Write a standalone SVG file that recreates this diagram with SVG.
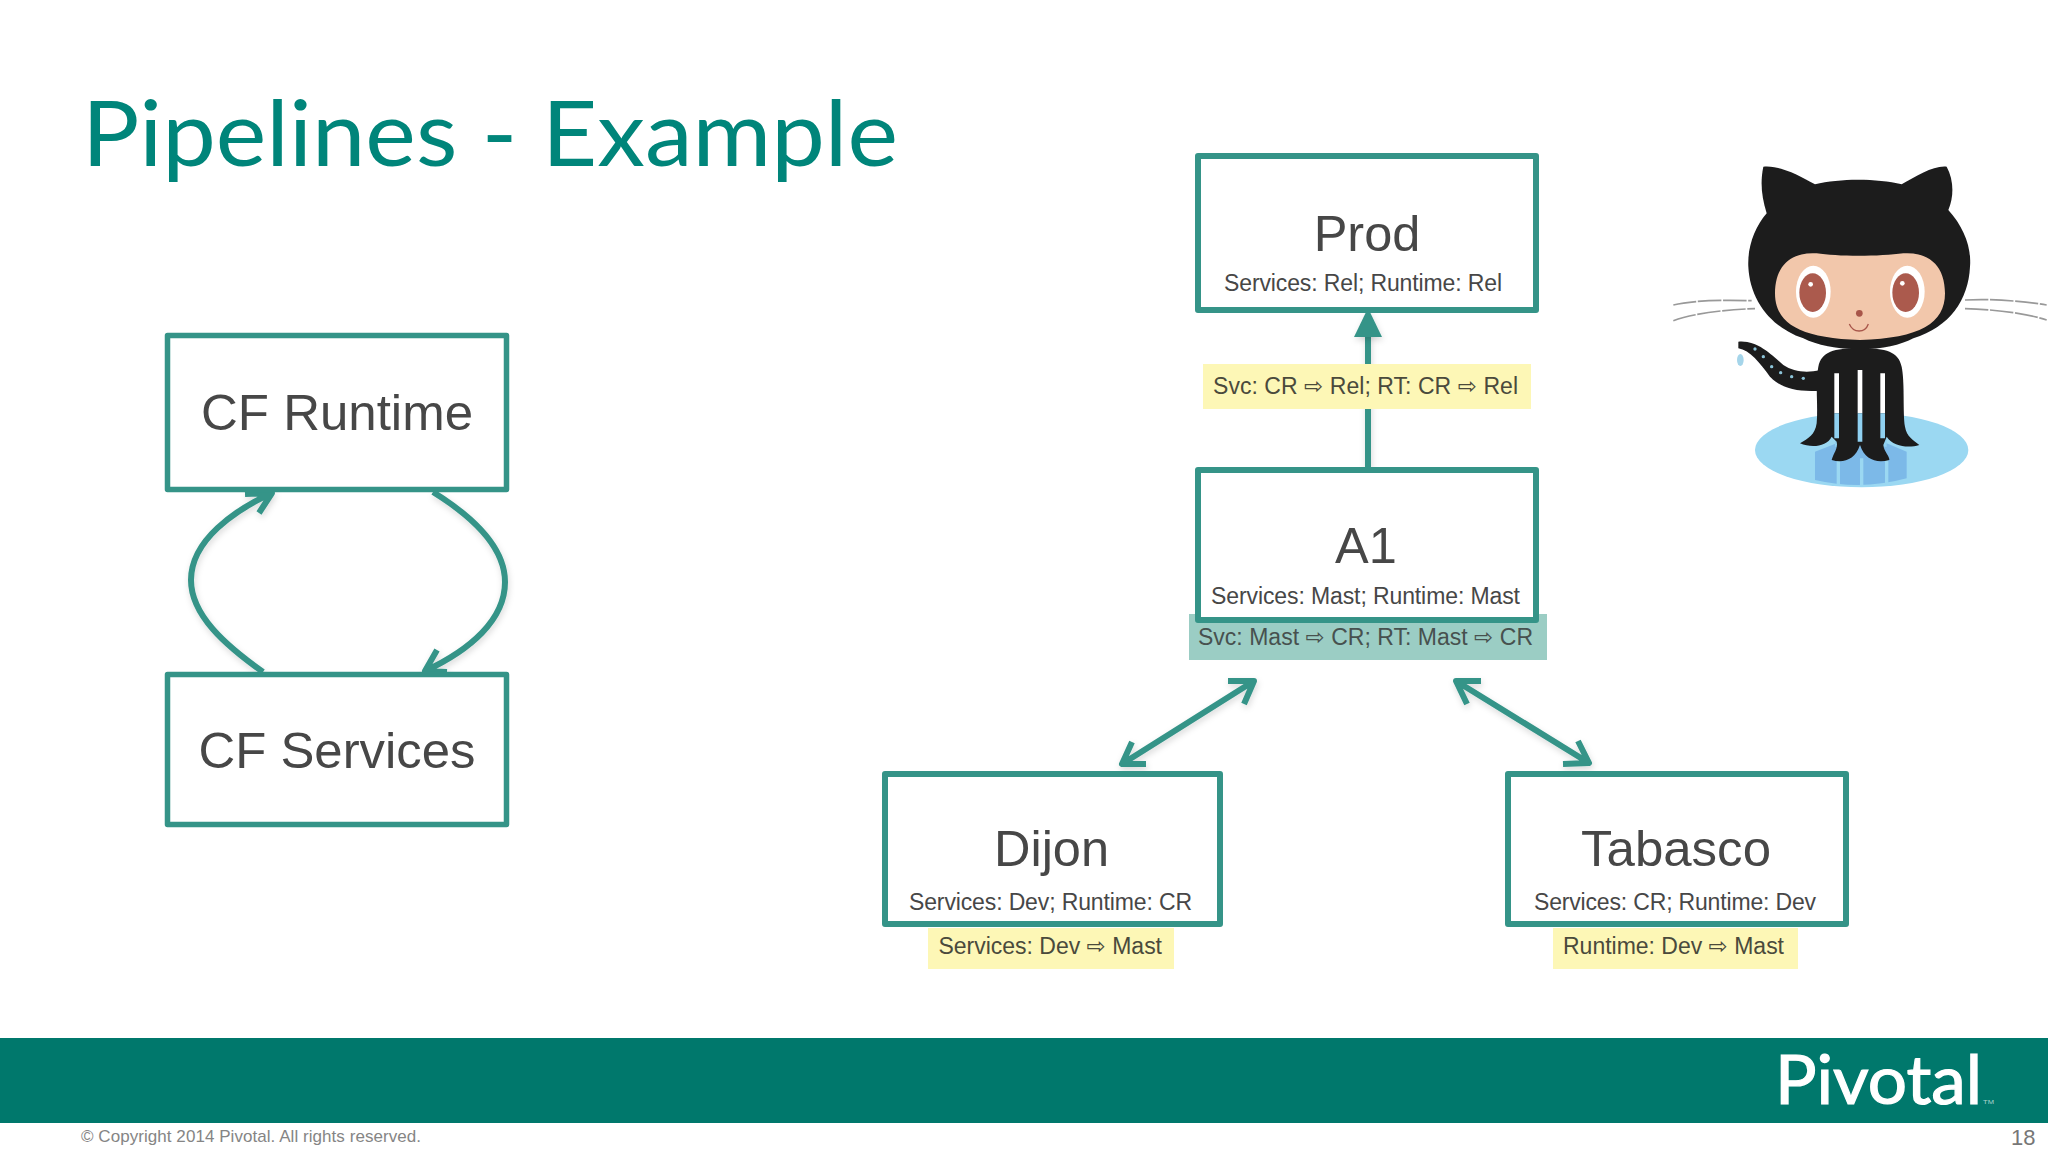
<svg xmlns="http://www.w3.org/2000/svg" width="2048" height="1152" viewBox="0 0 2048 1152">
<style>
text{font-family:"Liberation Sans","DejaVu Sans",sans-serif;fill:#474747}
.box{fill:#fff;stroke:#359488;stroke-width:6;stroke-linejoin:round}
.big{font-size:50.5px;text-anchor:middle}
.sub{font-size:23px}
.lab{font-size:23px;fill:#4a4a3c}
.ar{font-family:"DejaVu Sans",sans-serif;font-size:23px}
.yl{fill:#fdf7b6}
.con{fill:none;stroke:#359488;stroke-width:6;stroke-linejoin:round;filter:url(#sh)}
.w{fill:none;stroke:#999;stroke-width:5;stroke-dasharray:70 5}
</style>
<defs>
<filter id="sh" filterUnits="userSpaceOnUse" x="0" y="0" width="2048" height="1152"><feDropShadow dx="1" dy="3" stdDeviation="3" flood-color="#000" flood-opacity="0.15"/></filter>
<filter id="bl" x="-5%" y="-5%" width="110%" height="110%"><feGaussianBlur stdDeviation="1.5"/></filter>
</defs>
<rect width="2048" height="1152" fill="#fff"/>
<text x="82" y="166" font-size="92" textLength="816" lengthAdjust="spacingAndGlyphs" style="font-family:Lato,'Noto Sans',sans-serif;fill:#00857a">Pipelines - Example</text>

<g id="connectors">
<path class="con" d="M263,672C225,645 191,615 191,580C191,540 235,510 272,493M245,494L272,493L259,513"/>
<path class="con" d="M433,492C470,515 505,545 505,582C505,620 470,650 425,671M437,650L425,671L447,672"/>
<path class="con" d="M1368,468V325"/>
<path d="M1368,308L1382,337H1354Z" fill="#359488" filter="url(#sh)"/>
<path class="con" d="M1254,681L1122,764M1228,681L1254,681L1244,704M1132,742L1122,764L1146,764"/>
<path class="con" d="M1456,681L1589,763M1481,681L1456,681L1467,704M1578,741L1589,763L1563,764"/>
</g>

<g id="cf-runtime">
<rect class="box" x="167.5" y="335.5" width="339" height="154" style="stroke-width:5.5"/>
<text class="big" x="337" y="430" textLength="272" lengthAdjust="spacingAndGlyphs">CF Runtime</text>
</g>
<g id="cf-services">
<rect class="box" x="167.5" y="674.5" width="339" height="150" style="stroke-width:5.5"/>
<text class="big" x="337" y="768" textLength="277" lengthAdjust="spacingAndGlyphs">CF Services</text>
</g>

<g id="prod">
<rect class="box" x="1198" y="156" width="338" height="154"/>
<text class="big" x="1367" y="251">Prod</text>
<text class="sub" x="1224" y="291" textLength="278">Services: Rel; Runtime: Rel</text>
</g>
<g id="prod-label">
<rect class="yl" x="1203" y="364" width="328" height="45"/>
<text class="lab" x="1213" y="394" textLength="305">Svc: CR <tspan class="ar">⇨</tspan> Rel; RT: CR <tspan class="ar">⇨</tspan> Rel</text>
</g>

<g id="a1">
<rect x="1189" y="614" width="358" height="46" fill="#9bcdc4"/>
<text class="lab" x="1198" y="645" textLength="335" style="fill:#47514f">Svc: Mast <tspan class="ar">⇨</tspan> CR; RT: Mast <tspan class="ar">⇨</tspan> CR</text>
<rect class="box" x="1198" y="470" width="338" height="150"/>
<text class="big" x="1366" y="563">A1</text>
<text class="sub" x="1211" y="604" textLength="309">Services: Mast; Runtime: Mast</text>
</g>

<g id="dijon">
<rect class="box" x="885" y="774" width="335" height="150"/>
<text class="big" x="1051.5" y="866">Dijon</text>
<text class="sub" x="909" y="910" textLength="283">Services: Dev; Runtime: CR</text>
<rect class="yl" x="928" y="928" width="246" height="41"/>
<text class="lab" x="938.5" y="954" textLength="223.5">Services: Dev <tspan class="ar">⇨</tspan> Mast</text>
</g>

<g id="tabasco">
<rect class="box" x="1508" y="774" width="338" height="150"/>
<text class="big" x="1676" y="866" textLength="190" lengthAdjust="spacingAndGlyphs">Tabasco</text>
<text class="sub" x="1534" y="910" textLength="282">Services: CR; Runtime: Dev</text>
<rect class="yl" x="1553" y="928" width="245" height="41"/>
<text class="lab" x="1563" y="954" textLength="221">Runtime: Dev <tspan class="ar">⇨</tspan> Mast</text>
</g>

<g id="octocat" transform="translate(1660 150) scale(.33333)">
<g filter="url(#bl)">
<ellipse cx="605" cy="900" rx="320" ry="112" fill="#9bd8f2"/>
<path d="M465,905L530,880H680L740,905V985Q605,1022 465,990Z" fill="#7cb9e8"/>
<path d="M525,790H680V890H525Z" fill="#8fd0f0"/>
<path d="M535,920V1005M605,925V1010M680,920V1005" stroke="#9bd8f2" stroke-width="10" fill="none"/>
<path class="w" d="M40,465C100,450 200,450 275,452M40,512C100,490 200,478 285,476M915,450C1000,445 1100,455 1160,465M915,476C1000,478 1100,490 1160,510"/>
<path d="M235,575C290,570 330,610 370,645C400,665 440,670 480,660V722C420,725 370,720 330,680C300,640 270,600 235,595Z" fill="#1b1b1d"/>
<g fill="#8cc4d8"><circle cx="285" cy="597" r="5"/><circle cx="310" cy="620" r="5"/><circle cx="335" cy="650" r="5"/><circle cx="362" cy="668" r="5"/><circle cx="395" cy="680" r="5"/><circle cx="430" cy="685" r="5"/></g>
<ellipse cx="241" cy="630" rx="10" ry="18" fill="#a5d5ea"/>
<path d="M475,650C485,605 520,595 600,595C680,595 715,605 725,650C735,700 728,790 735,830C740,860 760,870 778,885C745,895 700,890 680,860L670,885C672,905 690,920 688,930C650,940 615,930 600,885C585,930 550,940 515,930C520,910 535,895 530,875L515,860C500,890 455,895 420,880C445,865 465,855 470,820C475,770 465,700 475,650Z" fill="#1b1b1d"/>
<path d="M530,670V790M600,660V790M668,670V790" stroke="#fff" stroke-width="14" fill="none"/>
<path d="M530,790V865M600,790V875M668,790V865" stroke="#8fd0f0" stroke-width="14" fill="none"/>
<path d="M310,50C360,45 420,78 465,103C540,85 650,85 725,103C770,78 820,46 860,50C882,90 882,140 865,180C910,230 935,290 930,350C925,450 870,530 760,565C720,585 670,598 600,598C530,598 470,585 430,565C330,530 270,450 265,350C262,290 285,230 320,190C305,140 300,100 310,50Z" fill="#1b1b1d"/>
<path d="M345,430C345,350 390,305 470,310C530,320 660,320 730,310C810,305 855,350 855,430C855,520 780,565 600,570C420,565 345,520 345,430Z" fill="#f2c7ab"/>
<ellipse cx="460" cy="425" rx="52" ry="78" fill="#fff"/><ellipse cx="742" cy="425" rx="52" ry="78" fill="#fff"/>
<ellipse cx="458" cy="428" rx="40" ry="58" fill="#ab5a4e"/><ellipse cx="737" cy="428" rx="40" ry="58" fill="#ab5a4e"/>
<circle cx="452" cy="403" r="7" fill="#fff"/><circle cx="727" cy="400" r="7" fill="#fff"/>
<circle cx="598" cy="490" r="10" fill="#a8564a"/>
<path d="M568,522C580,550 615,550 625,522" fill="none" stroke="#a8564a" stroke-width="4"/>
</g>
</g>

<rect x="0" y="1038" width="2048" height="85" fill="#00786c"/>
<text x="1775" y="1104" font-size="68" textLength="207" lengthAdjust="spacingAndGlyphs" style="font-family:Lato,'Noto Sans',sans-serif;fill:#fff;stroke:#fff;stroke-width:1.2">Pivotal</text>
<text x="1983" y="1104" font-size="6" textLength="11" lengthAdjust="spacingAndGlyphs" style="fill:#a9d3cd">TM</text>
<text x="81" y="1142" font-size="17" textLength="340" style="fill:#858585">© Copyright 2014 Pivotal. All rights reserved.</text>
<text x="2011" y="1145" font-size="22" style="fill:#777">18</text>
</svg>
